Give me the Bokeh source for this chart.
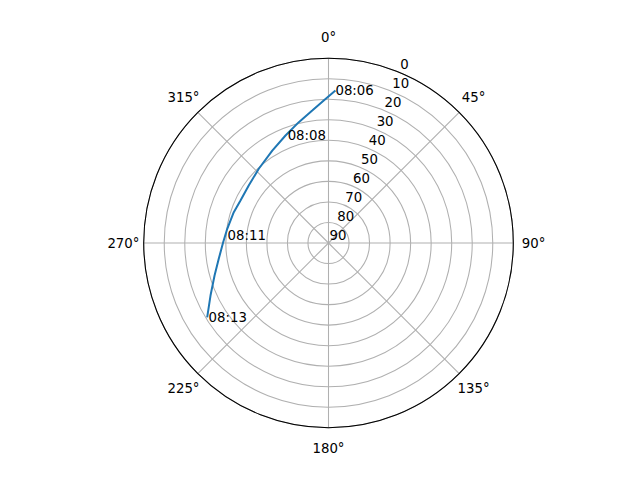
import numpy as np
from bokeh.plotting import figure
from bokeh.models import Range1d
from bokeh.core.properties import value
from bokeh.embed import file_html
from bokeh.resources import INLINE

# satellite pass: azimuth (deg, clockwise from north) and elevation (deg)
track_az = [2.6, 358.8, 353.0, 346.2, 338.2, 328.7, 316.8, 305.8, 295.8, 288.0,
            278.0, 270.4, 261.8, 254.1, 246.0, 238.5]
track_el = [15.6, 19.8, 25.0, 29.4, 33.6, 37.3, 40.4, 42.1, 42.4, 41.5,
            40.2, 38.7, 36.0, 32.3, 27.1, 20.7]

time_labels = ["08:06", "08:08", "08:11", "08:13"]
time_az = [2.6, 339.1, 274.5, 238.2]
time_el = [15.6, 34.2, 40.7, 21.3]

ring_values = [0, 10, 20, 30, 40, 50, 60, 70, 80, 90]
angle_ticks = [0, 45, 90, 135, 180, 225, 270, 315]
angle_labels = ["0°", "45°", "90°", "135°", "180°", "225°", "270°", "315°"]

FONT = value("DejaVu Sans")
FS = "13.3px"
k = 184.8 / 90.0  # px per unit
W, H = 624, 464
cx, cy = 328.0, 242.5  # center in canvas px


def to_xy(az, el):
    az = np.radians(np.asarray(az, dtype=float))
    r = 90.0 - np.asarray(el, dtype=float)
    return r * np.sin(az), r * np.cos(az)


p = figure(width=W, height=H, output_backend="svg", toolbar_location=None,
           x_range=Range1d(-cx / k, (W - cx) / k), y_range=Range1d(-(H - cy) / k, cy / k),
           min_border=0)
p.axis.visible = False
p.xgrid.visible = False
p.ygrid.visible = False
p.outline_line_color = None
p.background_fill_color = "white"
p.border_fill_color = "white"

# rings (radius = 90 - elevation)
ring_r = [90.0 - v for v in ring_values if v < 90]
p.circle(x=[0] * len(ring_r), y=[0] * len(ring_r), radius=ring_r, fill_color=None,
         line_color="#b0b0b0", line_width=1.07)
# spokes
sp = np.radians(angle_ticks)
p.segment(x0=[0] * len(sp), y0=[0] * len(sp), x1=list(90 * np.sin(sp)), y1=list(90 * np.cos(sp)),
          line_color="#b0b0b0", line_width=1.07)
# outer frame
p.circle(x=[0], y=[0], radius=[90], fill_color=None, line_color="black", line_width=1.07)

# angle labels
lr = 90 + 20.3 / k
p.text(x=list(lr * np.sin(sp)), y=list(lr * np.cos(sp)), text=angle_labels,
       text_align="center", text_baseline="middle", text_font=FONT, text_font_size=FS,
       text_color="black")

# radial labels at 22.5 deg
ra = np.radians(22.5)
rr = np.array([90.0 - v for v in ring_values])
p.text(x=list(rr * np.sin(ra)), y=list(rr * np.cos(ra)), text=[str(v) for v in ring_values],
       text_align="left", text_baseline="bottom", x_offset=1, y_offset=-3.5,
       text_font=FONT, text_font_size=FS, text_color="black")

# track
tx, ty = to_xy(track_az, track_el)
p.line(x=list(tx), y=list(ty), line_color="#1f77b4", line_width=2)

# time labels
lx, ly = to_xy(time_az, time_el)
p.text(x=list(lx), y=list(ly), text=time_labels, text_align="left", text_baseline="alphabetic",
       text_font=FONT, text_font_size=FS, text_color="black")

open("out.html", "w").write(file_html(p, INLINE))
